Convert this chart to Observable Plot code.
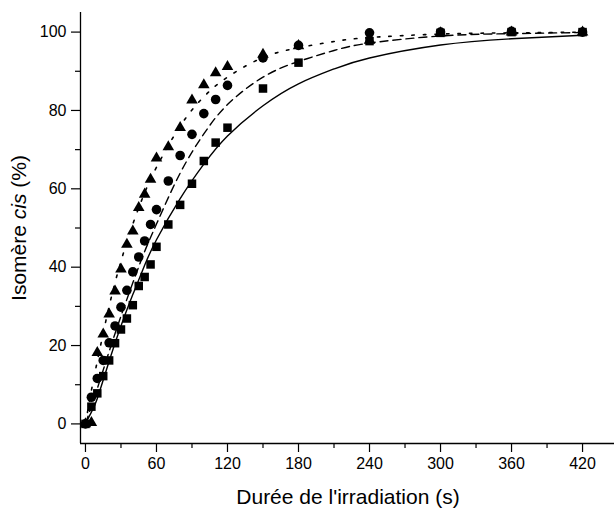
<!DOCTYPE html>
<html><head><meta charset="utf-8">
<script src="https://cdn.jsdelivr.net/npm/d3@7"></script>
<script src="https://cdn.jsdelivr.net/npm/@observablehq/plot@0.6"></script>
<style>body{margin:0;background:#fff}</style>
</head><body><div id="chart"></div>
<script>
const xMajor = [0, 60, 120, 180, 240, 300, 360, 420];
const xMinor = [30, 90, 150, 210, 270, 330, 390];
const yMajor = [0, 20, 40, 60, 80, 100];
const yMinor = [10, 30, 50, 70, 90];

const times = [0,5,10,15,20,25,30,35,40,45,50,55,60,70,80,90,100,110,120,150,180,240,300,360,420];
const squares   = [0,4.4,7.8,12.2,16.2,20.6,24.1,26.9,30.3,35.2,37.5,40.7,45.2,50.9,55.9,61.3,67.1,71.8,75.6,85.6,92.2,97.7,99.8,100,100];
const circles   = [0,6.8,11.6,16.2,20.7,25,29.8,34.1,38.8,42.6,46.7,50.9,54.7,62,68.5,73.9,79.2,82.8,86.4,93.4,96.6,99.8,100,100.2,100];
const triangles = [0,0.3,18.2,22.9,28,33.9,39.5,45.8,49.2,55.2,58.6,62.4,67.8,70.7,75.6,82.6,86.5,89.6,91.2,94.3,96.5,97.9,99.8,100,100];

const fitT      = [0,5,10,20,30,40,50,60,80,100,120,150,180,210,240,300,360,420];
const fitSolid  = [0,3,6.5,16,25,33,40.5,47,57.5,66.3,73.5,81.2,86.8,90.6,93.4,96.7,98.3,99.2];
const fitDashed = [0,4.5,9,18.5,27.5,36,44,51,64,74,81.5,88.5,92.5,95.3,97.2,99,99.6,99.9];
const fitDotted = [0,8.5,16,30,41.5,51,59,65.5,76,83.5,88.5,93.5,96,97.6,98.6,99.5,99.8,100];

const pts = (vals) => times.map((t, i) => ({t, v: vals[i]}));
const fit = (vals) => fitT.map((t, i) => ({t, v: vals[i]}));

const font = "'Liberation Sans', Arial, sans-serif";
const chart = Plot.plot({
  width: 614, height: 509,
  marginLeft: 80, marginRight: 0, marginTop: 12, marginBottom: 66,
  style: {fontFamily: font, background: "white", color: "black"},
  x: {domain: [-4.2, 447], label: null},
  y: {domain: [-5, 105], label: null},
  marks: [
    Plot.axisX({ticks: xMajor, tickSize: 9, tickPadding: 5, fontSize: 16, label: null, strokeWidth: 1.2}),
    Plot.axisX({ticks: xMinor, tickSize: 5, tickFormat: () => "", label: null, strokeWidth: 1.2}),
    Plot.axisY({ticks: yMajor, tickSize: 9, tickPadding: 5, fontSize: 16, label: null, strokeWidth: 1.2}),
    Plot.axisY({ticks: yMinor, tickSize: 5, tickFormat: () => "", label: null, strokeWidth: 1.2}),
    Plot.ruleX([-4.2], {stroke: "black", strokeWidth: 1.3}),
    Plot.ruleY([-5], {stroke: "black", strokeWidth: 1.3}),
    Plot.line(fit(fitSolid), {x: "t", y: "v", stroke: "black", strokeWidth: 1.4, curve: "natural"}),
    Plot.line(fit(fitDashed), {x: "t", y: "v", stroke: "black", strokeWidth: 1.4, strokeDasharray: "8,5", curve: "natural"}),
    Plot.line(fit(fitDotted), {x: "t", y: "v", stroke: "black", strokeWidth: 1.6, strokeDasharray: "2.5,9", curve: "natural"}),
    Plot.dot(pts(squares), {x: "t", y: "v", symbol: "square", r: 4.8, fill: "black", stroke: "none"}),
    Plot.dot(pts(circles), {x: "t", y: "v", symbol: "circle", r: 4.8, fill: "black", stroke: "none"}),
    Plot.dot(pts(triangles), {x: "t", y: "v", symbol: "triangle", r: 4.3, fill: "black", stroke: "none"})
  ]
});

const svg = d3.select(chart);
svg.append("text")
  .attr("x", 348).attr("y", 504)
  .attr("text-anchor", "middle")
  .attr("font-family", font).attr("font-size", 21).attr("fill", "black")
  .text("Durée de l'irradiation (s)");
const yl = svg.append("text")
  .attr("transform", "translate(26,228) rotate(-90)")
  .attr("text-anchor", "middle")
  .attr("font-family", font).attr("font-size", 21).attr("fill", "black");
yl.append("tspan").text("Isomère ");
yl.append("tspan").attr("font-style", "italic").text("cis");
yl.append("tspan").text(" (%)");

document.getElementById("chart").appendChild(chart);
</script>
</body></html>
